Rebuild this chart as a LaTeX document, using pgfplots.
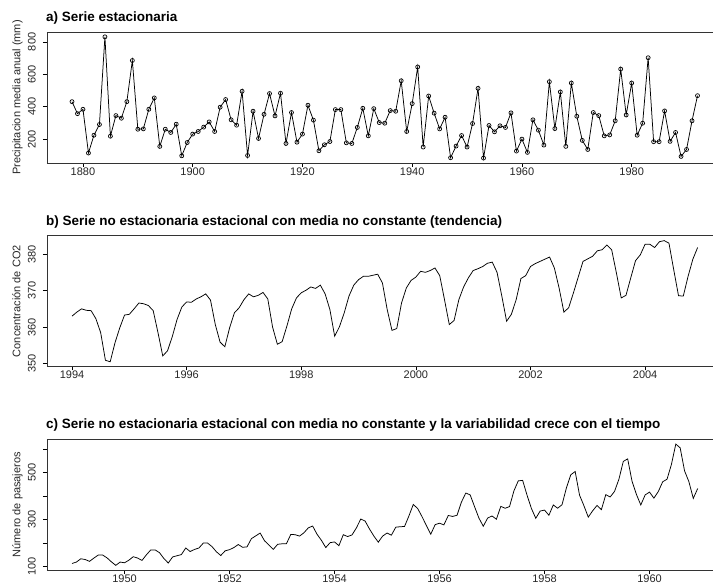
\documentclass[border=0pt]{standalone}
\usepackage{fontspec}
\setmainfont{Liberation Sans}
\usepackage{pgfplots}
\pgfplotsset{compat=1.18}
\pgfplotsset{
  rstyle/.style={
    scale only axis, width=666bp,
    separate axis lines,
    axis x line*=box, axis y line*=left,
    tick align=outside, tick pos=left,
    major tick length=4bp,
    tick style={black, line width=0.6bp},
    axis line style={line width=0.8bp, black!80, -},
    ticklabel style={font=\fontsize{11bp}{13bp}\selectfont, text=black!85},
    /pgf/number format/assume math mode=true,
    /pgf/number format/1000 sep={},
    yticklabel style={rotate=90, anchor=south, inner sep=0pt},
    xticklabel style={anchor=north, inner sep=0pt},
    yticklabel shift=7bp,
    xticklabel shift=0.5bp,
  },
  rline/.style={black, line width=0.75bp},
}
\newcommand{\lab}{\fontsize{11bp}{13bp}\selectfont}
\newcommand{\ttl}{\fontsize{13.5bp}{15bp}\selectfont\bfseries}
\begin{document}
\begin{tikzpicture}
\path (0,0) rectangle (713bp,-585bp);
% ---------- a)
\begin{axis}[rstyle, at={(47bp,-163bp)}, anchor=south west, height=131bp,
  xmin=1873.44, xmax=1994.75, ymin=53.1, ymax=860.9,
  xtick={1880,1900,...,1980}, ytick={200,400,600,800}]
\addplot[rline, mark=o, mark size=2bp, mark options={line width=0.7bp}]
 table[row sep=\\, header=false, x expr=1878+\coordindex, y index=0] {
431\\357\\384\\114\\224\\290\\831\\218\\345\\329\\431\\685\\261\\263\\384\\454\\155\\261\\241\\292\\
97\\179\\231\\247\\274\\306\\247\\397\\444\\319\\286\\495\\99\\372\\204\\353\\481\\343\\483\\
173\\364\\181\\231\\409\\317\\128\\165\\185\\382\\382\\177\\173\\272\\390\\220\\388\\302\\298\\376\\
372\\560\\247\\419\\645\\151\\466\\360\\263\\335\\85\\157\\222\\151\\296\\513\\83\\
284\\245\\282\\272\\362\\126\\200\\118\\319\\255\\163\\554\\265\\491\\155\\546\\341\\192\\136\\364\\
345\\220\\226\\313\\632\\349\\546\\224\\298\\702\\184\\184\\374\\186\\241\\93\\136\\313\\468\\
};
\end{axis}
% ---------- b)
\begin{axis}[rstyle, at={(47bp,-366.7bp)}, anchor=south west, height=130.7bp,
  xmin=1993.563, xmax=2005.178, ymin=349.2, ymax=385.0,
  xtick={1994,1996,...,2004}, ytick={350,360,370,380}]
\addplot[rline]
 table[row sep=\\, header=false, x expr=1994+\coordindex/12, y index=0] {
363.0\\364.1\\365.0\\364.6\\364.5\\362.3\\358.5\\350.9\\350.5\\355.7\\359.8\\363.3\\
363.5\\365.0\\366.6\\366.4\\365.9\\364.5\\358.5\\352.1\\353.5\\357.4\\362.1\\365.5\\
366.9\\366.8\\367.7\\368.3\\369.1\\367.4\\360.7\\355.9\\354.6\\359.8\\363.9\\365.3\\
367.5\\369.1\\368.3\\368.7\\369.5\\367.7\\360.0\\355.3\\356.0\\360.3\\365.0\\368.0\\
369.4\\370.1\\371.0\\370.6\\371.5\\369.1\\364.8\\357.5\\360.1\\363.9\\368.5\\371.5\\
373.0\\373.9\\373.9\\374.2\\374.5\\372.1\\364.8\\359.1\\359.6\\366.6\\370.7\\372.8\\
373.7\\375.3\\375.0\\375.5\\376.2\\374.1\\367.5\\360.7\\361.8\\367.5\\371.0\\373.5\\
375.5\\376.0\\376.6\\377.5\\377.8\\375.0\\368.5\\361.6\\363.5\\367.5\\373.3\\374.1\\
376.6\\377.4\\378.0\\378.6\\379.2\\376.2\\370.7\\364.1\\365.3\\369.4\\373.7\\378.0\\
378.7\\379.4\\380.9\\381.2\\382.5\\381.2\\374.8\\368.0\\368.7\\373.5\\378.2\\379.8\\
382.7\\382.7\\381.8\\383.4\\383.7\\383.0\\375.7\\368.6\\368.5\\373.9\\378.6\\381.8\\
};
\end{axis}
% ---------- c)
\begin{axis}[rstyle, at={(47bp,-570.5bp)}, anchor=south west, height=131bp,
  xmin=1948.523, xmax=1961.201, ymin=83.3, ymax=642.7,
  xtick={1950,1952,...,1960}, ytick={100,200,...,600},
  yticklabels={100,,300,,500,}]
\addplot[rline]
 table[row sep=\\, header=false, x expr=1949+\coordindex/12, y index=0] {
112\\118\\132\\129\\121\\135\\148\\148\\136\\119\\104\\118\\
115\\126\\141\\135\\125\\149\\170\\170\\158\\133\\114\\140\\
145\\150\\178\\163\\172\\178\\199\\199\\184\\162\\146\\166\\
171\\180\\193\\181\\183\\218\\230\\242\\209\\191\\172\\194\\
196\\196\\236\\235\\229\\243\\264\\272\\237\\211\\180\\201\\
204\\188\\235\\227\\234\\264\\302\\293\\259\\229\\203\\229\\
242\\233\\267\\269\\270\\315\\364\\347\\312\\274\\237\\278\\
284\\277\\317\\313\\318\\374\\413\\405\\355\\306\\271\\306\\
315\\301\\356\\348\\355\\422\\465\\467\\404\\347\\305\\336\\
340\\318\\362\\348\\363\\435\\491\\505\\404\\359\\310\\337\\
360\\342\\406\\396\\420\\472\\548\\559\\463\\407\\362\\405\\
417\\391\\419\\461\\472\\535\\622\\606\\508\\461\\390\\432\\
};
\end{axis}
% titles and y labels
\node[anchor=base west, inner sep=0pt] at (46bp,-21.7bp) {\ttl a) Serie estacionaria};
\node[anchor=base west, inner sep=0pt] at (46bp,-226bp) {\ttl b) Serie no estacionaria estacional con media no constante (tendencia)};
\node[anchor=base west, inner sep=0pt] at (46bp,-429bp) {\ttl c) Serie no estacionaria estacional con media no constante y la variabilidad crece con el tiempo};
\node[rotate=90, anchor=base, inner sep=0pt, text=black!85] at (20.5bp,-97.5bp) {\lab Precipitacion media anual (mm)};
\node[rotate=90, anchor=base, inner sep=0pt, text=black!85] at (20.5bp,-301.3bp) {\lab Concentración de CO2};
\node[rotate=90, anchor=base, inner sep=0pt, text=black!85] at (20.5bp,-505bp) {\lab Número de pasajeros};
\end{tikzpicture}
\end{document}
